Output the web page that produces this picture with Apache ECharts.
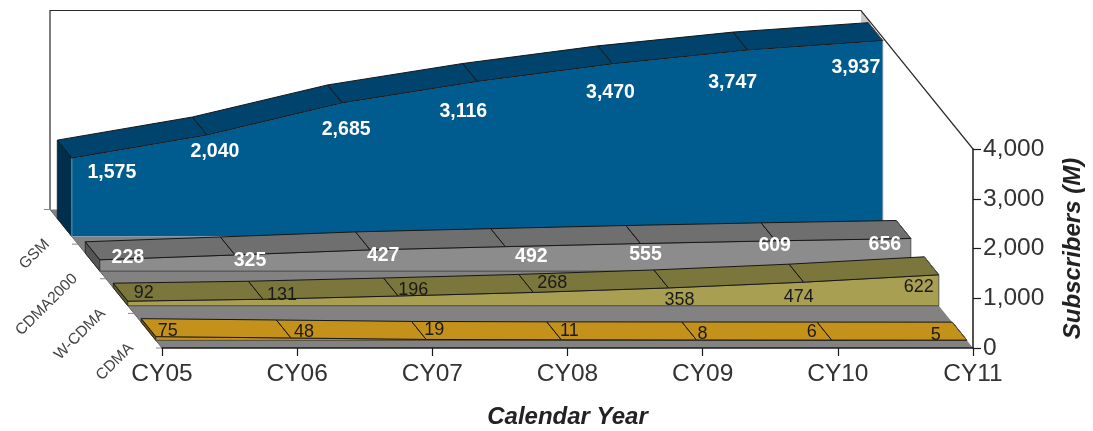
<!DOCTYPE html>
<html>
<head>
<meta charset="utf-8">
<style>html,body{margin:0;padding:0;background:#fff}#chart{width:1093px;height:431px}</style>
<script src="https://cdn.jsdelivr.net/npm/echarts@6/dist/echarts.min.js"></script>
</head>
<body>
<div id="chart"></div>
<script>
// Worldwide subscribers by air interface, calendar years 2005 to 2011 (millions)
const years = ['CY05', 'CY06', 'CY07', 'CY08', 'CY09', 'CY10', 'CY11'];
const technologies = ['CDMA', 'W-CDMA', 'CDMA2000', 'GSM']; // front to back
const cdma = [75, 48, 19, 11, 8, 6, 5];
const wcdma = [92, 131, 196, 268, 358, 474, 622];
const cdma2000 = [228, 325, 427, 492, 555, 609, 656];
const gsm = [1575, 2040, 2685, 3116, 3470, 3747, 3937];

// Oblique projection of the depth axis: screen shift at full depth
const DEPTH_DX = -112, DEPTH_DY = -138.5;
const SLOT_START = 0.22, SLOT_THICK = 0.52; // fractions of one depth slot
const VALUE_MAX = 4000;

const SANS = '"Liberation Sans", Arial, sans-serif';

// Label nudges from each front-top vertex, per layer
const labelNudges = {
  GSM: [[40, 14], [8, 17], [4, 27], [-14, 30.5], [-2, 29], [-15, 33], [-27, 26.5]],
  CDMA2000: [[28, -2], [15, 6], [13, 6], [26, 10], [5, 11.5], [-1, 5], [-26, 6.5]],
  'W-CDMA': [[16, -8], [19, -4], [15, -6], [19, -9], [11, 12], [-5, 15], [-20, 12]],
  CDMA: [[12, -6], [13, -6], [8, -9.5], [8, -9], [6, -6], [-20, -8], [-31, -5]]
};

const layers = [
  { name: 'GSM', values: gsm, front: '#005b8e', top: '#00436c', side: '#002f4d', labelColor: '#fff', bold: true },
  { name: 'CDMA2000', values: cdma2000, front: '#8c8c8c', top: '#6f6f6f', side: '#555', labelColor: '#fff', bold: true },
  { name: 'W-CDMA', values: wcdma, front: '#a89f52', top: '#7a763c', side: '#5a5a2a', labelColor: '#1a1a1a', bold: false },
  { name: 'CDMA', values: cdma, front: '#c4921b', top: '#c4921b', side: '#6d5210', labelColor: '#1a1a1a', bold: false }
];

function project(api, x, v, d) {
  const p = api.coord([x, v]);
  return [p[0] + DEPTH_DX * d, p[1] + DEPTH_DY * d];
}

// Back wall, floor and the depth axis with its tick marks and labels
function renderFrame(params, api) {
  if (params.dataIndex !== 0) return { type: 'group', children: [] };
  const last = years.length - 1, top = VALUE_MAX;
  const corner = project(api, last, top, 1);
  const children = [
    { type: 'polygon', shape: { points: [project(api, 0, 0, 0), project(api, last, 0, 0), project(api, last, 0, 1), project(api, 0, 0, 1)] },
      style: { fill: '#828282', stroke: null } },
    { type: 'polygon', shape: { points: [corner, [corner[0] + 10, corner[1] + 12], [corner[0], corner[1] + 12]] },
      style: { fill: '#c8c8c8', stroke: null } },
    { type: 'polyline', shape: { points: [project(api, 0, 0, 1), project(api, 0, top, 1), corner, project(api, last, top, 0)] },
      style: { fill: null, stroke: '#2a2a2a', lineWidth: 1.2 } },
    { type: 'line', shape: { x1: project(api, 0, 0, 0)[0], y1: project(api, 0, 0, 0)[1], x2: project(api, 0, 0, 1)[0], y2: project(api, 0, 0, 1)[1] },
      style: { stroke: '#666', lineWidth: 1 } }
  ];
  for (let t = 0; t <= technologies.length; t++) {
    const p = project(api, 0, 0, t / technologies.length);
    children.push({ type: 'line', shape: { x1: p[0] - 6, y1: p[1], x2: p[0], y2: p[1] }, style: { stroke: '#888', lineWidth: 1 } });
  }
  technologies.forEach((name, t) => {
    const p = project(api, 0, 0, (t + 0.5) / technologies.length);
    children.push({ type: 'text', x: p[0] - 17, y: p[1] + 15, rotation: Math.PI / 4,
      style: { text: name, align: 'right', verticalAlign: 'middle', font: '15.5px ' + SANS, fill: '#444' } });
  });
  return { type: 'group', children };
}

// One 3D ribbon: side face and front face once, top band per year
function layerRenderer(layer) {
  const slot = technologies.indexOf(layer.name);
  const dFront = (slot + SLOT_START) / technologies.length;
  const dBack = (slot + SLOT_START + SLOT_THICK) / technologies.length;
  const n = layer.values.length;
  return function (params, api) {
    const i = params.dataIndex, v = api.value(1);
    const children = [];
    if (i === 0) {
      const front = [project(api, 0, 0, dFront)];
      layer.values.forEach((val, k) => front.push(project(api, k, val, dFront)));
      front.push(project(api, n - 1, 0, dFront));
      children.push({ type: 'polygon', shape: { points: [project(api, 0, 0, dBack), project(api, 0, v, dBack), project(api, 0, v, dFront), project(api, 0, 0, dFront)] },
        style: { fill: layer.side, stroke: '#1a1a1a', lineWidth: 0.8 } });
      children.push({ type: 'polygon', shape: { points: front },
        style: { fill: layer.front, stroke: layer.name === 'GSM' ? '#9aa7b0' : '#3a3a3a', lineWidth: 0.8 } });
    }
    if (i < n - 1) {
      const next = layer.values[i + 1];
      children.push({ type: 'polygon', shape: { points: [project(api, i, v, dFront), project(api, i + 1, next, dFront), project(api, i + 1, next, dBack), project(api, i, v, dBack)] },
        style: { fill: layer.top, stroke: '#161616', lineWidth: 1 } });
    } else {
      // closing edge of the last band
      const a = project(api, i, v, dFront), b = project(api, i, v, dBack);
      children.push({ type: 'line', shape: { x1: a[0], y1: a[1], x2: b[0], y2: b[1] }, style: { stroke: '#555', lineWidth: 1 } });
    }
    return { type: 'group', children };
  };
}

// Value labels sit above every ribbon once its geometry is down
function labelRenderer(layer) {
  const slot = technologies.indexOf(layer.name);
  const dFront = (slot + SLOT_START) / technologies.length;
  return function (params, api) {
    const i = params.dataIndex, v = api.value(1);
    const p = project(api, i, v, dFront);
    const nudge = labelNudges[layer.name][i];
    return { type: 'text', x: p[0] + nudge[0], y: p[1] + nudge[1], z2: 10,
      style: { text: v.toLocaleString('en-US'), align: 'center', verticalAlign: 'middle',
        font: (layer.bold ? 'bold 19.5px ' : '18px ') + SANS, fill: layer.labelColor } };
  };
}

const pairs = values => values.map((v, i) => [i, v]);

const series = [
  { type: 'custom', coordinateSystem: 'cartesian2d', renderItem: renderFrame, data: [[0, 0]], silent: true, z: 1 }
];
layers.forEach((layer, k) => {
  series.push({ type: 'custom', name: layer.name, coordinateSystem: 'cartesian2d', renderItem: layerRenderer(layer), data: pairs(layer.values), silent: true, z: 2 + k });
});
layers.forEach(layer => {
  series.push({ type: 'custom', name: layer.name + ' labels', coordinateSystem: 'cartesian2d', renderItem: labelRenderer(layer), data: pairs(layer.values), silent: true, z: 20 });
});

const chart = echarts.init(document.getElementById('chart'), null, { renderer: 'canvas' });
chart.setOption({
  animation: false,
  backgroundColor: '#fff',
  grid: { left: 162, right: 120, top: 149, bottom: 83, containLabel: false, outerBoundsMode: 'none' },
  xAxis: {
    type: 'category', data: years, boundaryGap: false, z: 30,
    axisLine: { lineStyle: { color: '#1a1a1a', width: 1.5 } },
    axisTick: { show: true, alignWithLabel: true, length: 8, lineStyle: { color: '#1a1a1a', width: 1.2 } },
    axisLabel: { show: true, interval: 0, margin: 14, fontFamily: SANS, fontSize: 24.5, color: '#333' },
    name: 'Calendar Year', nameLocation: 'middle', nameGap: 57,
    nameTextStyle: { fontFamily: SANS, fontSize: 24, fontWeight: 'bold', fontStyle: 'italic', color: '#222' }
  },
  yAxis: {
    type: 'value', position: 'right', min: 0, max: VALUE_MAX, interval: 1000, z: 30,
    axisLine: { show: true, lineStyle: { color: '#1a1a1a', width: 1.5 } },
    axisTick: { show: true, length: 8, lineStyle: { color: '#1a1a1a', width: 1.2 } },
    axisLabel: { margin: 10, fontFamily: SANS, fontSize: 24.5, color: '#333', formatter: v => v.toLocaleString('en-US') },
    splitLine: { show: false },
    name: 'Subscribers (M)', nameLocation: 'middle', nameGap: 88, nameRotate: 90,
    nameTextStyle: { fontFamily: SANS, fontSize: 24, fontStyle: 'italic', fontWeight: 'bold', color: '#222' }
  },
  series
});
</script>
</body>
</html>
